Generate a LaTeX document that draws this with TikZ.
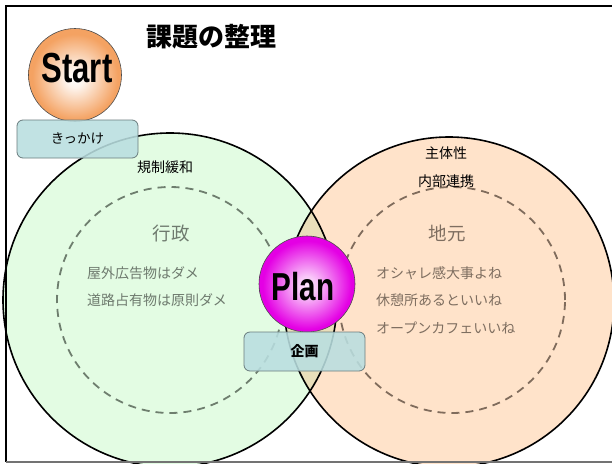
\documentclass[tikz,border=0pt]{standalone}
\usepackage{fontspec}
\setmainfont{Noto Sans CJK JP}
\newfontfamily\latinb{Liberation Sans}
\definecolor{greenfill}{HTML}{E3FCE3}
\definecolor{orangefill}{HTML}{FFE3CA}
\definecolor{lensfill}{HTML}{E9DEBA}
\definecolor{boxfill}{HTML}{B9DEE0}
\definecolor{boxline}{HTML}{6A7C7E}
\definecolor{gtext}{HTML}{6E7A6E}
\definecolor{otext}{HTML}{7E6E60}
\definecolor{gdash}{HTML}{6E7E6E}
\definecolor{odash}{HTML}{806C5C}
\definecolor{startedge}{HTML}{F4A262}
\definecolor{planedge}{HTML}{E400E4}
\pgfdeclareradialshading{startshade}{\pgfpoint{0bp}{-2bp}}{color(0bp)=(white); color(5bp)=(white!88!startedge); color(23bp)=(startedge); color(50bp)=(startedge)}
\pgfdeclareradialshading{planshade}{\pgfpoint{0bp}{-1bp}}{color(0bp)=(white!90!planedge); color(5bp)=(white!78!planedge); color(23bp)=(planedge); color(50bp)=(planedge)}
\begin{document}
\begin{tikzpicture}[x=1pt,y=-1pt,
  bigcirc/.style={circle, inner sep=0pt},
  ringline/.style={line width=1.6pt, black},
  dashring/.style={line width=1.8pt, dash pattern=on 8pt off 6pt},
  ball/.style={circle, draw=black!70, line width=0.6pt, inner sep=0pt},
  balltext/.style={inner sep=0pt},
  tagbox/.style={rectangle, rounded corners=6pt, draw=boxline, line width=0.8pt, fill=boxfill, fill opacity=0.88, text opacity=1, minimum width=121pt, minimum height=38pt, font=\fontsize{13.5}{16}\selectfont},
  small/.style={font=\fontsize{14}{17}\selectfont, inner sep=0pt},
  head/.style={font=\fontsize{18.5}{22}\selectfont, inner sep=0pt},
  gtxt/.style={text=gtext},
  otxt/.style={text=otext}]
\useasboundingbox (0,0) rectangle (612,463);
\fill[white] (0,0) rectangle (612,463);
% big circles
\node[bigcirc, fill=greenfill, minimum size=334pt] (gov) at (170,300) {};
\node[bigcirc, fill=orangefill, minimum size=330pt] (loc) at (449,302) {};
\begin{scope}
  \clip (gov.center) circle[radius=167pt];
  \fill[lensfill] (loc.center) circle[radius=165pt];
\end{scope}
\draw[ringline] (gov.center) circle[radius=167pt];
\draw[ringline] (loc.center) circle[radius=165pt];
\draw[dashring, gdash] (gov.center) circle[radius=113pt];
\draw[dashring, odash] (452,300) circle[radius=113pt];
% labels
\node[small] (kisei) at (165,167) {規制緩和};
\node[small] (shutai) at (446,153) {主体性};
\node[small] (renkei) at (446,181) {内部連携};
\node[head, gtxt] (gyosei) at (171,233) {行政};
\node[small, gtxt, anchor=west] (gov-a) at (87,273) {屋外広告物はダメ};
\node[small, gtxt, anchor=west] (gov-b) at (87,300) {道路占有物は原則ダメ};
\node[head, otxt] (jimoto) at (447,233) {地元};
\node[small, otxt, anchor=west] (loc-a) at (376,273) {オシャレ感大事よね};
\node[small, otxt, anchor=west] (loc-b) at (376,300) {休憩所あるといいね};
\node[small, otxt, anchor=west] (loc-c) at (376,328) {オープンカフェいいね};
% title
\node[font=\bfseries\fontsize{26}{30}\selectfont, inner sep=0pt] (title) at (211,37) {課題の整理};
% start
\node[ball, shading=startshade, minimum size=93pt] (start) at (75,75) {};
\node[balltext, font=\latinb\bfseries\fontsize{42}{42}\selectfont, xscale=0.74] (start-label) at (77,68) {Start};
\node[tagbox] (kikkake) at (77.5,139) {きっかけ};
% plan
\node[ball, shading=planshade, minimum size=96pt] (plan) at (307,284) {};
\node[balltext, font=\latinb\bfseries\fontsize{39}{39}\selectfont, xscale=0.76] (plan-label) at (303,287) {Plan};
\node[tagbox, minimum height=39pt, font=\bfseries\fontsize{14}{16}\selectfont] (kikaku) at (304.5,351.5) {企画};
% frame
\draw[line width=2.2pt] (6,462) -- (6,6) -- (614,6);
\draw[line width=1.2pt, black!55] (6,462) -- (614,462);
\end{tikzpicture}
\end{document}
